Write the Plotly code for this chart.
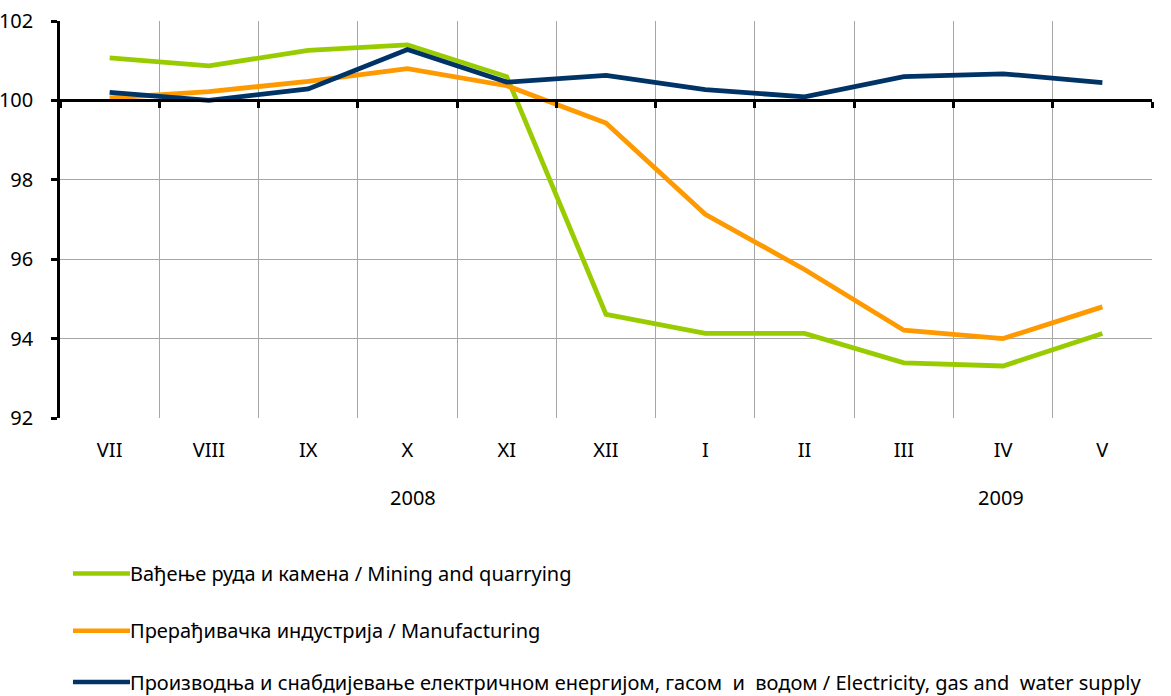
import plotly.graph_objects as go

months = ["VII", "VIII", "IX", "X", "XI", "XII", "I", "II", "III", "IV", "V"]
mining = [101.07, 100.87, 101.26, 101.40, 100.60, 94.61, 94.13, 94.13, 93.39, 93.31, 94.13]
manufacturing = [100.06, 100.22, 100.48, 100.80, 100.37, 99.43, 97.13, 95.74, 94.21, 94.00, 94.80]
electricity = [100.20, 100.00, 100.29, 101.28, 100.46, 100.63, 100.27, 100.09, 100.60, 100.67, 100.45]

series_names = [
    "Вађење руда и камена / Mining and quarrying",
    "Прерађивачка индустрија / Manufacturing",
    "Производња и снабдијевање електричном енергијом, гасом  и  водом / Electricity, gas and  water supply",
]
series_values = [mining, manufacturing, electricity]
series_colors = ["#99CC00", "#FF9900", "#003366"]

years = ["2008", "2009"]
year_pos = ["X", "IV"]
year_shift = [6, -2]

FONT = "'Noto Sans', Tahoma, sans-serif"

fig = go.Figure()
for name, vals, col in zip(series_names, series_values, series_colors):
    fig.add_trace(go.Scatter(x=months, y=vals, mode="lines", name=name,
                             line=dict(color=col, width=4.8), showlegend=False))

# helper trace for the crossing axis at 100
fig.add_trace(go.Scatter(x=months, y=[None] * len(months), xaxis="x2", yaxis="y",
                         showlegend=False, hoverinfo="skip"))

fig.update_layout(
    width=1171, height=696,
    margin=dict(l=60, r=19, t=21, b=278),
    plot_bgcolor="white", paper_bgcolor="white",
    font=dict(family=FONT, size=20, color="black"),
    xaxis=dict(type="category", tickson="boundaries", showgrid=True,
               gridcolor="#a6a6a6", gridwidth=1, ticks="", showline=False,
               ticklabelstandoff=18, tickfont=dict(size=20),
               range=[-0.5, 10.5], automargin=False),
    xaxis2=dict(type="category", overlaying="x", anchor="free", position=0.8,
                matches="x", showline=True, linecolor="black", linewidth=2.5,
                ticks="outside", tickson="boundaries", ticklen=6, tickwidth=2.5,
                tickcolor="black", showticklabels=False, showgrid=False, side="bottom"),
    yaxis=dict(range=[92, 102], dtick=2, showgrid=True, gridcolor="#a6a6a6",
               gridwidth=1, showline=True, linecolor="black", linewidth=2.5,
               ticks="outside", ticklen=6, tickwidth=2.5, tickcolor="black",
               ticklabelstandoff=14, zeroline=False, tickfont=dict(size=20),
               automargin=False, ticklabeloverflow="allow"),
)

for yr, pos, sh in zip(years, year_pos, year_shift):
    fig.add_annotation(x=pos, xref="x", y=-0.2, yref="paper", text=yr,
                       showarrow=False, xanchor="center", yanchor="middle",
                       xshift=sh, font=dict(size=20))

# legend drawn below the plot
leg_y = [-0.392, -0.536, -0.665]
for name, col, ly in zip(series_names, series_colors, leg_y):
    fig.add_shape(type="line", xref="paper", yref="paper", x0=0.0119, x1=0.0641,
                  y0=ly, y1=ly, line=dict(color=col, width=4.5))
    fig.add_annotation(x=0.0635, xref="paper", y=ly, yref="paper", text=name,
                       showarrow=False, xanchor="left", yanchor="middle",
                       borderpad=0, font=dict(size=20))

fig.write_html("out.html", config={"displayModeBar": False},
               post_script="document.body.style.margin='0';")
